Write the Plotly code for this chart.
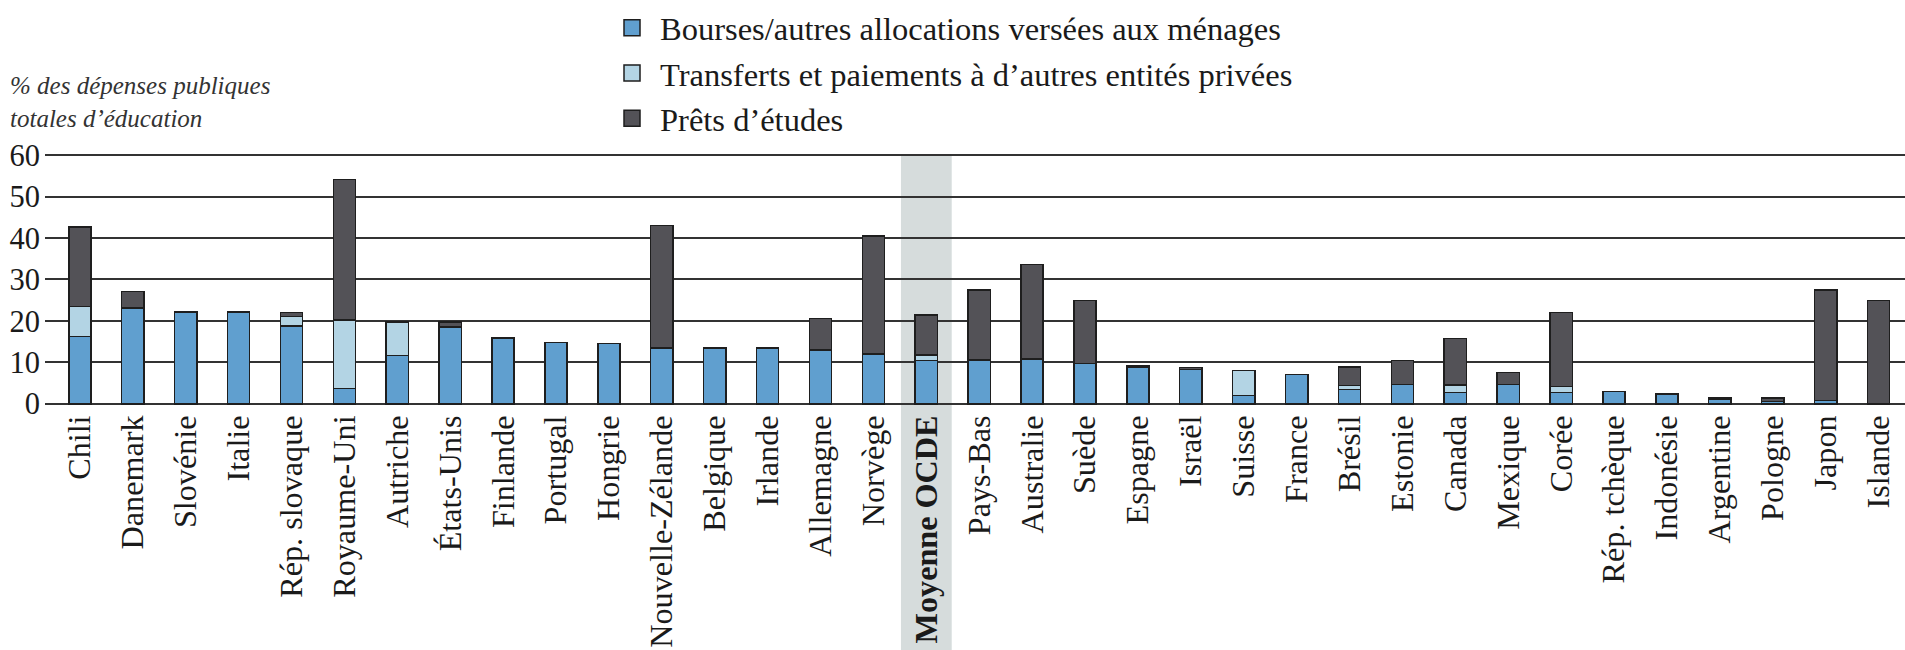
import plotly.graph_objects as go

countries = ["Chili", "Danemark", "Slovénie", "Italie", "Rép. slovaque", "Royaume-Uni",
             "Autriche", "États-Unis", "Finlande", "Portugal", "Hongrie", "Nouvelle-Zélande",
             "Belgique", "Irlande", "Allemagne", "Norvège", "Moyenne OCDE", "Pays-Bas",
             "Australie", "Suède", "Espagne", "Israël", "Suisse", "France", "Brésil",
             "Estonie", "Canada", "Mexique", "Corée", "Rép. tchèque", "Indonésie",
             "Argentine", "Pologne", "Japon", "Islande"]

bourses = [16.2, 23.1, 22.1, 22.1, 18.8, 3.7, 11.6, 18.5, 15.7, 14.8, 14.5, 13.4,
           13.4, 13.4, 13.0, 12.0, 10.5, 10.5, 10.8, 9.7, 8.7, 8.3, 2.0, 7.1, 3.5,
           4.6, 2.7, 4.6, 2.7, 2.9, 2.4, 1.0, 0.6, 0.8, None]
transferts = [7.3, None, None, None, 2.2, 16.5, 8.0, 0.2, None, None, None, None,
              None, None, None, None, 1.3, 0.2, None, None, None, None, 6.0, None, 0.9,
              None, 1.8, None, 1.5, None, None, None, None, None, None]
prets = [19.1, 4.0, None, None, 1.0, 33.9, 0.1, 1.0, 0.3, None, None, 29.6,
         None, None, 7.6, 28.5, 9.6, 16.8, 22.8, 15.2, 0.4, 0.4, None, None, 4.5,
         5.8, 11.3, 3.0, 17.8, None, None, 0.45, 0.8, 26.6, 24.9]

series_names = ["Bourses/autres allocations versées aux ménages",
                "Transferts et paiements à d’autres entités privées",
                "Prêts d’études"]
series_colors = ["#609FCF", "#B3D4E4", "#535257"]
highlight = "Moyenne OCDE"

yticks = [0, 10, 20, 30, 40, 50, 60]
ytitle = "% des dépenses publiques<br>totales d’éducation"

FONT = "Liberation Serif"
W, H = 1905, 650
ML, MR, MT, MB = 45, 0, 151, 245
PW, PH = W - ML - MR, H - MT - MB
OUTLINE = "#1e1e1e"

fig = go.Figure()
for name, vals, col in zip(series_names, [bourses, transferts, prets], series_colors):
    fig.add_trace(go.Bar(
        x=countries, y=vals, name=name,
        marker=dict(color=col, line=dict(color=OUTLINE, width=1.5)),
        legendgroup=name, showlegend=False,
    ))
# legend entries with larger square swatches
for name, col in zip(series_names, series_colors):
    fig.add_trace(go.Scatter(
        x=[None], y=[None], mode="markers", name=name, legendgroup=name,
        marker=dict(symbol="square", size=16, color=col, line=dict(color=OUTLINE, width=1.5)),
        showlegend=True, hoverinfo="skip",
    ))

hi = countries.index(highlight)
fig.add_shape(type="rect", xref="x", yref="paper",
              x0=hi - 0.48, x1=hi + 0.48, y0=-1.0, y1=(60 + 0.3) / 61.3,
              fillcolor="#D6DCDC", line=dict(width=0), layer="below")

ticktext = [f"<b>{c}</b>" if c == highlight else c for c in countries]

fig.update_layout(
    width=W, height=H,
    barmode="stack", bargap=0.58,
    plot_bgcolor="white", paper_bgcolor="white",
    margin=dict(l=ML, r=MR, t=MT, b=MB, autoexpand=False),
    font=dict(family=FONT, color="#1a1a1a"),
    xaxis=dict(
        range=[-0.66, len(countries) - 0.5], automargin=False,
        tickmode="array", tickvals=countries, ticktext=ticktext,
        tickangle=-90, tickfont=dict(size=32.2, family=FONT, color="#1a1a1a"),
        showgrid=False, showline=False, ticks="", fixedrange=True,
        ticklabelstandoff=3,
    ),
    yaxis=dict(
        range=[-0.3, 61], tickvals=yticks, automargin=False,
        tickfont=dict(size=30.5, family=FONT, color="#1a1a1a"),
        showgrid=True, gridcolor="#333333", gridwidth=2,
        zeroline=True, zerolinecolor="#333333", zerolinewidth=2,
        showline=False, ticks="", ticklabelstandoff=4,
    ),
    legend=dict(
        orientation="v", xref="paper", yref="container",
        x=(604 - ML) / PW, xanchor="left", y=1.0, yanchor="top",
        itemwidth=46,
        font=dict(size=32.5, family=FONT, color="#1a1a1a"),
        traceorder="normal", tracegroupgap=10, bgcolor="rgba(0,0,0,0)",
    ),
    annotations=[dict(
        text=ytitle, xref="paper", yref="paper",
        x=(8 - ML) / PW, y=(H - MB - 70) / PH, xanchor="left", yanchor="top",
        showarrow=False, align="left",
        font=dict(size=25, family=FONT, color="#333333", style="italic"),
    )],
)

fig.write_html("out.html", config={"displayModeBar": False},
               post_script="document.body.style.margin='0';document.body.style.overflow='hidden';")
